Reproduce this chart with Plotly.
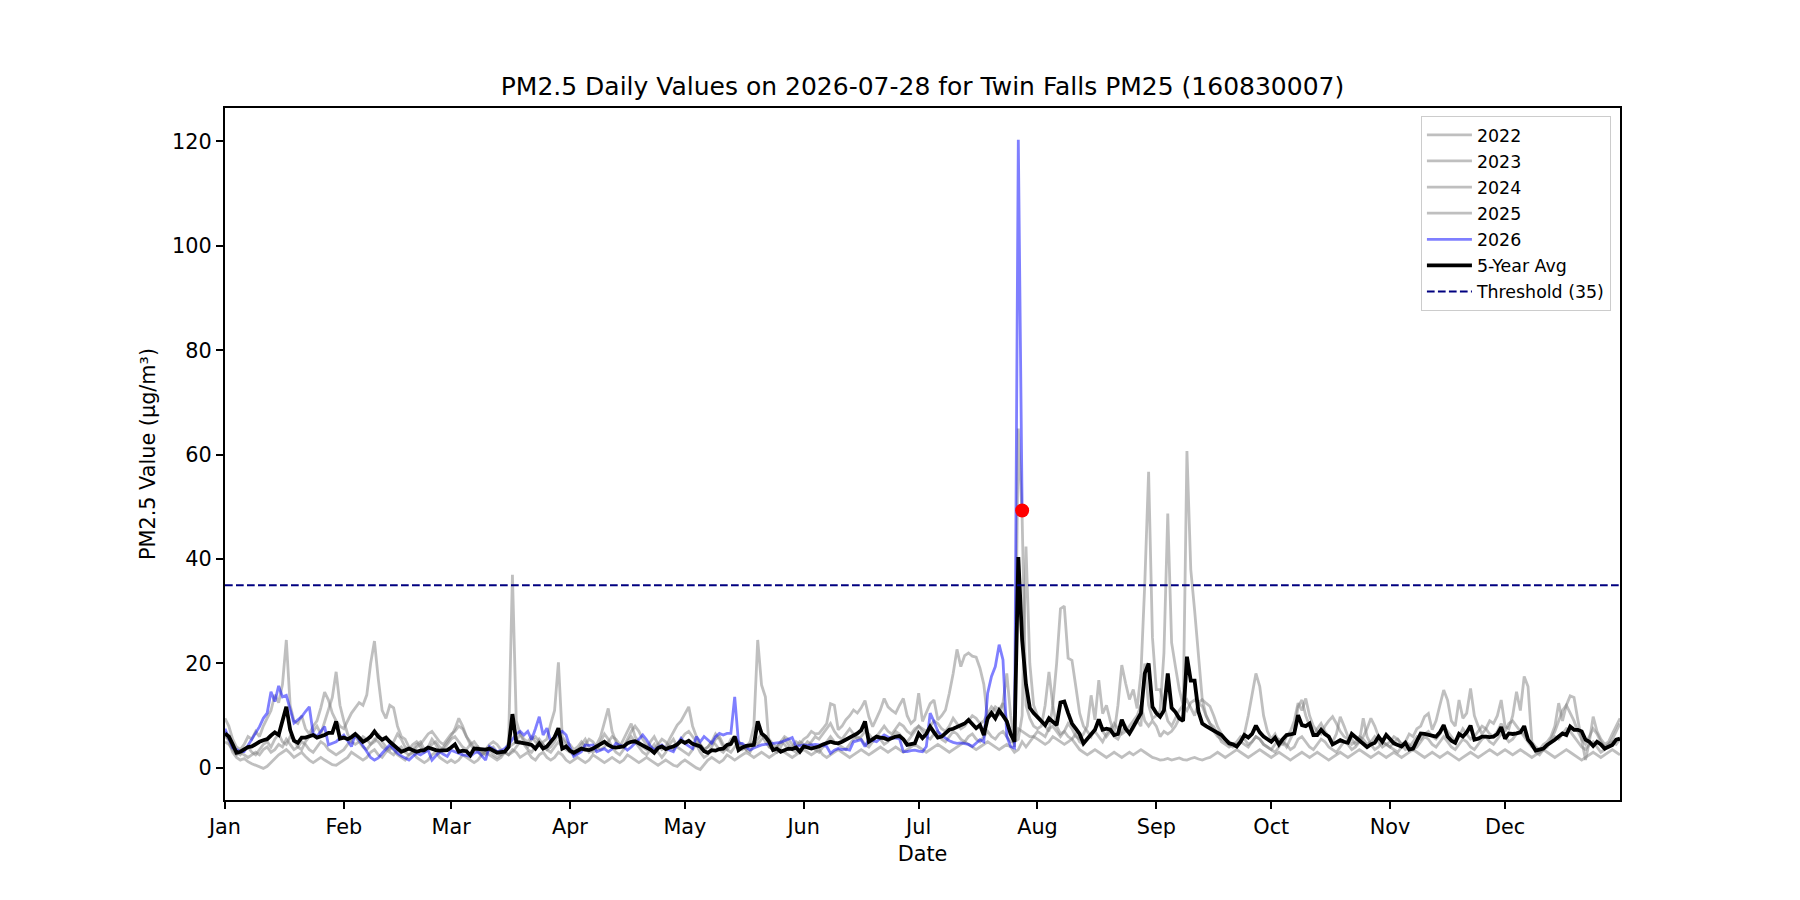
import pandas as pd
import plotly.graph_objects as go

TITLE = "PM2.5 Daily Values on 2026-07-28 for Twin Falls PM25 (160830007)"
YEAR = 2026
THRESHOLD = 35
MONTH_TICKS = ["Jan", "Feb", "Mar", "Apr", "May", "Jun",
               "Jul", "Aug", "Sep", "Oct", "Nov", "Dec"]
Y_TICKS = [0, 20, 40, 60, 80, 100, 120]

# ---- daily values (one row per month) ----
y2022 = [
    9.5,8.0,5.5,4.0,3.5,4.5,6.0,5.5,7.0,6.0,8.0,9.5,11.0,14.0,12.5,16.0,24.5,12.0,9.0,8.5,10.0,7.5,6.5,8.0,9.0,11.5,14.5,13.0,10.5,9.0,8.0,
    7.5,9.0,10.5,11.5,12.5,12.0,14.0,20.0,24.3,17.0,11.0,9.5,12.0,11.5,8.0,6.0,5.5,4.0,3.5,4.5,5.0,3.5,4.0,5.5,4.5,3.0,4.0,5.0,
    6.0,7.5,9.5,8.0,6.0,4.5,3.5,4.0,3.0,2.5,3.5,4.0,3.0,2.5,3.0,5.0,37.0,9.0,6.5,5.0,4.0,5.5,6.0,5.0,4.5,3.5,4.0,5.0,6.5,5.5,4.5,
    3.5,2.5,3.0,4.5,5.5,4.0,3.0,3.5,5.0,6.5,5.5,4.0,3.0,2.5,3.5,5.0,6.0,5.0,4.0,3.0,2.5,3.5,4.5,3.0,2.0,3.0,4.5,5.5,4.0,3.5,
    3.0,2.5,3.5,4.5,3.0,2.0,2.5,4.0,5.5,6.0,4.5,3.5,3.0,4.0,5.0,4.5,3.5,3.0,4.5,5.5,6.5,5.0,4.0,3.5,3.0,4.0,5.5,4.5,3.5,3.0,3.5,
    4.0,5.0,4.5,3.5,3.0,4.0,5.0,6.0,5.0,4.5,4.0,3.5,4.5,5.5,6.0,5.5,4.5,4.0,5.0,6.0,5.5,4.5,5.0,6.0,7.0,6.5,5.5,5.0,6.0,7.0,
    8.0,7.0,6.0,5.5,6.5,7.0,5.5,5.0,6.0,7.0,6.5,5.5,5.0,6.0,6.5,5.5,5.0,6.0,7.0,6.0,5.5,6.5,7.0,6.0,5.0,5.0,7.5,7.0,6.5,6.0,6.0,
    7.0,6.5,6.0,7.5,8.0,7.0,6.0,7.0,8.5,7.5,6.0,5.5,6.5,8.0,13.9,9.2,16.8,10.4,12.0,9.0,6.6,12.0,19.7,16.2,13.1,15.0,11.4,18.1,35.3,56.7,25.0,
    15.0,15.0,12.0,9.0,8.0,9.5,11.0,12.0,13.0,11.5,10.0,12.5,13.1,12.4,11.8,10.0,7.9,6.5,5.4,5.0,4.5,4.0,5.0,6.6,10.0,14.0,18.1,15.6,10.0,7.0,
    5.5,6.5,5.0,4.5,6.0,7.0,9.0,12.4,11.0,13.3,10.0,8.0,7.0,6.5,8.0,9.0,9.8,8.5,7.0,6.0,5.5,4.5,5.0,6.0,5.5,4.5,5.0,6.0,5.0,4.0,4.5,
    5.0,6.0,5.5,4.5,5.0,6.5,6.0,7.5,8.0,9.8,10.4,7.3,9.0,12.0,14.9,13.0,9.0,8.0,13.0,9.5,10.5,15.2,10.0,8.0,6.5,7.5,9.0,8.5,10.0,13.0,
    8.0,7.5,10.0,14.6,11.0,17.5,15.6,5.0,4.0,3.5,4.5,5.0,6.0,8.0,12.4,9.0,12.0,13.8,13.5,9.2,5.0,1.5,5.0,9.8,7.0,5.5,4.5,5.0,6.5,8.0,9.5,
]
y2023 = [
    6.0,5.5,4.0,3.0,2.5,3.5,4.0,3.0,2.5,3.5,4.5,5.0,4.0,5.5,6.5,5.0,4.5,6.0,5.5,4.0,3.5,5.0,6.0,7.0,8.0,6.5,9.0,11.0,13.5,18.4,12.0,
    9.0,6.5,5.0,4.5,5.0,6.0,5.5,4.5,5.0,6.5,5.0,4.0,3.5,5.0,6.5,5.5,4.0,3.5,4.5,5.0,4.0,3.0,3.5,4.5,5.0,4.0,3.5,4.5,
    5.5,6.0,5.0,4.0,3.5,4.5,5.0,4.0,3.0,3.5,4.5,5.0,4.5,3.5,3.0,4.0,4.5,5.0,6.5,5.5,5.0,6.0,5.0,4.5,5.0,5.5,8.5,11.0,20.2,6.0,5.0,
    4.5,3.5,4.0,5.0,4.0,3.0,3.5,4.5,6.0,8.5,11.4,7.0,5.0,4.0,5.5,7.0,8.5,6.0,5.0,4.0,3.5,5.0,6.0,4.5,3.5,4.0,5.5,7.0,8.2,9.0,
    10.5,11.7,8.0,6.0,4.5,3.5,4.0,5.0,6.5,5.5,4.0,3.5,4.5,5.5,4.5,3.5,4.0,5.0,8.0,24.5,15.9,13.6,4.0,3.5,4.0,5.0,4.5,3.5,4.0,5.0,4.5,
    5.5,6.0,7.0,6.5,6.6,7.5,8.5,12.3,12.0,7.3,8.0,9.2,10.0,11.1,10.5,11.5,12.9,9.8,7.9,9.5,11.1,13.3,11.7,11.0,10.5,12.0,13.3,10.0,8.5,9.2,
    14.3,8.9,10.5,12.3,13.0,9.2,10.0,11.1,14.3,18.1,22.7,19.4,21.5,22.0,21.4,21.2,19.1,16.0,9.2,10.5,11.7,11.1,12.4,9.0,7.0,4.0,65.0,48.0,12.0,9.5,8.0,
    7.5,8.0,12.0,18.4,12.0,8.0,6.5,7.0,6.0,5.5,6.5,5.0,4.5,5.5,6.5,7.0,6.0,5.0,6.5,7.5,6.0,5.5,7.0,8.0,6.5,7.5,9.0,8.0,20.0,12.0,9.5,
    10.0,11.0,22.0,48.7,24.0,19.4,15.0,12.0,11.0,12.5,13.0,12.4,11.8,10.0,8.5,7.9,6.5,5.0,4.5,4.0,4.5,5.0,6.0,5.5,4.5,5.0,6.0,5.5,4.5,4.0,
    3.5,4.5,5.5,5.0,4.0,5.5,7.0,11.7,13.0,10.0,8.0,6.0,7.5,8.5,7.0,6.0,5.0,6.5,9.8,8.0,6.0,5.5,4.5,5.0,6.0,7.5,9.5,8.0,6.0,5.0,4.5,
    4.0,5.0,5.5,4.5,3.5,4.0,5.0,6.0,5.5,6.5,7.0,6.0,5.5,6.5,8.0,7.0,6.0,5.0,6.0,7.5,6.5,5.5,6.0,7.0,8.0,7.5,6.5,6.0,7.0,8.5,
    7.0,8.5,9.0,8.0,7.0,6.5,5.5,4.5,3.0,2.5,3.5,4.0,5.5,7.0,9.0,11.0,12.0,10.5,9.0,7.0,5.5,4.5,6.0,7.5,6.5,5.0,4.0,4.5,5.5,7.0,8.5,
]
y2024 = [
    5.0,4.5,3.5,2.5,3.0,2.5,2.0,2.5,3.0,2.5,3.5,4.0,3.0,3.5,4.5,4.0,5.5,4.5,3.5,4.0,5.0,4.5,3.5,3.0,4.0,5.0,4.5,3.5,3.0,2.5,3.0,
    3.5,4.5,5.5,6.0,5.0,4.0,3.5,4.5,5.5,5.0,4.0,3.5,3.0,2.5,3.5,4.0,3.0,2.5,3.0,4.0,4.5,5.5,6.5,7.0,6.0,5.0,4.5,5.5,
    6.5,7.0,8.0,7.5,6.0,5.0,4.0,3.0,2.5,3.0,3.5,2.5,2.0,2.5,3.0,2.5,3.0,4.0,5.0,4.5,3.5,3.0,4.0,5.5,4.5,3.5,3.0,4.0,5.0,4.0,3.5,
    3.0,2.5,3.0,3.5,4.5,5.5,5.0,4.0,3.5,4.0,5.0,6.0,5.5,4.5,4.0,5.5,7.0,8.0,7.0,5.5,4.5,4.0,3.5,4.5,5.5,5.0,4.0,3.5,4.5,5.5,
    6.5,7.0,6.0,5.0,4.5,3.5,4.0,5.0,4.5,3.5,3.0,4.0,5.5,6.0,5.0,4.0,3.5,4.5,5.0,4.5,5.5,6.0,5.5,4.5,4.0,5.0,6.0,5.5,4.5,4.0,5.0,
    4.5,4.0,5.0,6.0,5.5,6.5,7.3,8.5,7.0,6.0,5.5,6.5,7.5,6.5,5.5,6.0,7.0,6.5,5.5,6.0,7.0,8.0,7.0,6.5,7.5,8.5,8.0,7.0,6.5,7.5,
    8.0,7.5,7.0,8.0,9.0,8.5,7.5,7.0,8.0,9.5,8.5,7.5,8.0,9.0,10.0,9.5,8.5,9.0,10.5,11.7,11.0,10.0,12.4,18.1,10.0,5.0,5.5,10.0,42.4,20.0,12.0,
    10.0,9.0,8.0,7.0,12.0,20.0,30.5,31.0,21.0,20.6,15.6,10.5,8.0,7.0,6.0,7.5,8.5,7.0,6.0,7.0,8.5,7.5,6.5,7.0,8.0,9.0,10.0,12.0,9.0,8.0,9.0,
    8.0,6.0,7.0,6.5,7.0,8.0,9.5,10.0,60.7,38.0,30.2,21.3,13.1,10.0,8.5,7.0,6.0,5.5,5.0,4.5,4.0,4.5,5.0,4.5,4.0,5.0,6.0,5.5,4.5,4.0,
    3.5,3.0,4.0,5.0,4.5,3.5,4.0,5.5,6.0,5.0,4.0,3.5,4.5,5.5,5.0,4.0,3.5,3.0,4.0,5.0,4.5,3.5,4.0,5.0,9.5,6.0,4.5,3.5,4.0,5.0,4.5,
    4.0,3.5,3.0,4.0,5.0,4.5,3.5,4.0,5.0,6.0,5.5,4.5,4.0,5.0,6.0,5.0,4.0,3.5,4.5,5.5,5.0,4.0,3.5,4.5,5.5,6.0,5.0,4.5,5.5,6.5,
    6.0,5.0,5.5,6.5,7.0,6.0,5.0,4.0,3.5,3.0,3.5,4.5,5.0,6.0,5.5,6.5,7.5,7.0,6.0,5.0,4.0,3.5,4.5,5.0,4.0,3.0,3.5,4.5,5.0,4.5,5.5,
]
y2025 = [
    7.0,5.0,3.0,2.0,1.5,1.8,1.2,0.8,0.5,0.2,-0.1,0.3,1.0,1.8,2.5,3.0,3.5,2.8,2.0,2.5,3.0,2.2,1.5,1.0,1.5,2.0,1.5,1.0,0.6,0.5,1.0,
    1.5,2.0,3.0,2.5,2.0,1.5,2.0,3.0,3.5,2.5,2.0,3.0,4.0,3.5,2.5,2.0,1.5,2.5,3.0,2.0,1.5,1.0,1.5,2.5,3.0,2.0,1.5,1.0,
    1.5,1.0,1.5,2.5,2.0,1.5,1.0,1.5,2.5,3.0,2.5,2.0,1.5,2.0,3.0,2.5,3.5,3.0,2.0,2.5,3.0,2.0,1.5,2.5,3.0,2.0,1.5,2.0,3.0,2.5,1.5,
    1.0,1.5,2.0,1.5,1.0,1.5,2.5,2.0,1.5,1.0,1.5,2.0,1.5,1.0,1.5,2.5,2.0,1.5,1.0,1.5,2.0,1.5,1.0,0.5,1.0,1.5,1.0,0.5,0.3,1.0,
    1.5,1.0,0.5,0.0,-0.3,0.5,1.5,2.0,1.5,1.0,1.5,2.5,2.0,1.5,2.0,2.5,3.0,2.5,2.0,2.5,3.0,2.5,2.0,2.5,3.0,3.5,3.0,2.5,2.0,2.5,3.0,
    3.5,3.0,2.5,3.0,3.5,2.5,2.0,2.5,3.0,3.5,3.0,2.5,2.0,2.5,3.0,3.5,3.0,2.5,3.0,3.5,4.0,3.5,3.0,3.5,4.0,3.5,3.0,3.5,4.0,4.5,
    4.0,3.5,3.0,3.5,4.0,4.5,4.0,3.5,3.0,3.5,4.0,4.5,5.0,4.5,4.0,3.5,4.0,4.5,5.0,4.5,4.0,3.5,4.0,4.5,4.0,3.0,3.5,5.0,4.0,5.0,6.0,
    5.5,5.0,4.5,5.0,6.0,5.5,5.0,4.5,5.0,5.5,4.5,3.5,3.0,2.5,3.0,3.5,3.0,2.5,2.0,2.5,3.0,2.5,2.0,2.5,3.0,2.5,3.0,3.5,3.0,2.5,2.0,
    1.8,1.5,1.6,1.8,1.5,1.7,1.9,1.6,1.5,1.8,2.0,1.7,1.5,1.8,2.0,2.5,3.0,2.5,2.0,2.5,3.0,3.5,3.0,2.5,2.0,2.5,3.0,3.5,3.0,2.5,
    2.0,2.5,3.0,2.5,2.0,1.5,2.0,2.5,3.0,2.5,2.0,2.5,3.0,2.5,2.0,1.5,2.0,2.5,3.0,2.5,2.0,2.5,3.0,3.5,3.0,2.5,2.0,2.5,3.0,2.5,2.0,
    2.5,3.0,2.5,2.0,2.5,3.0,3.5,3.0,2.5,2.0,2.5,3.0,2.5,2.0,2.5,3.0,2.5,2.0,1.5,2.0,2.5,3.0,2.5,2.0,2.5,3.0,3.5,3.0,2.5,3.0,
    3.5,3.0,2.5,3.0,3.5,3.0,2.5,2.0,2.5,3.0,3.5,3.0,2.5,2.0,2.5,3.0,3.5,3.0,2.5,2.0,1.5,2.0,2.5,3.0,2.5,2.0,2.5,3.0,3.5,3.0,2.5,
]
# current year, Jan 1 .. Jul 28
y2026 = [
    7.5,5.5,3.8,3.5,3.1,3.1,4.3,5.4,6.6,7.9,9.5,10.5,14.6,12.7,15.7,13.6,13.9,11.0,8.6,9.2,9.8,10.8,11.7,6.6,6.0,7.0,7.9,4.4,4.7,5.0,5.7,
    6.3,5.2,4.1,6.5,5.4,4.2,3.1,2.0,1.5,1.9,2.8,3.7,4.4,3.6,2.8,2.3,1.9,1.5,2.2,2.8,2.5,2.9,3.4,1.5,2.3,3.1,2.6,2.2,
    3.4,3.1,2.8,2.5,2.4,2.2,2.8,3.1,2.3,1.5,4.1,3.6,3.1,3.3,3.7,4.4,5.4,6.5,7.0,6.3,7.0,5.4,7.5,9.8,6.3,7.6,5.0,6.0,6.5,7.0,6.3,
    4.0,2.2,2.6,3.1,4.4,4.3,4.4,3.1,3.4,3.7,3.1,3.6,4.7,4.3,4.1,3.4,4.0,4.7,5.5,6.3,5.4,4.2,3.4,3.9,4.4,3.7,3.4,3.1,4.5,5.7,
    4.7,4.2,3.7,6.0,5.0,6.0,5.4,4.7,6.0,6.6,6.3,6.6,6.6,13.6,4.7,4.7,4.0,3.4,3.8,4.1,4.4,4.5,4.6,4.7,4.8,4.9,5.2,5.5,5.8,4.1,4.3,
    4.4,4.3,4.4,4.5,4.4,4.2,4.1,2.8,3.4,3.7,3.5,3.6,3.4,5.0,5.2,5.4,4.1,5.4,5.2,5.0,5.7,6.3,5.9,5.7,5.7,5.6,3.1,3.1,3.3,3.4,
    3.2,3.1,4.1,10.5,8.9,7.0,6.2,5.7,5.2,4.9,4.7,4.8,4.7,4.5,4.1,4.8,5.4,5.0,14.3,17.5,19.4,23.6,20.7,6.0,4.1,3.8,120.3,49.3,
]
avg5 = [
    6.6,6.0,4.5,2.9,3.1,3.5,4.0,4.1,4.6,5.0,5.3,5.5,6.2,6.8,6.3,9.2,11.7,7.3,5.2,4.8,5.8,5.8,6.0,6.3,5.8,6.0,6.3,6.7,6.7,8.9,5.6,
    5.8,5.5,5.9,6.5,5.8,5.0,5.4,6.0,7.0,6.0,5.4,5.8,5.0,4.4,3.6,3.1,3.4,3.7,3.4,3.1,3.3,3.4,3.9,3.6,3.4,3.3,3.3,3.4,
    3.9,4.5,3.1,3.3,3.2,2.4,3.7,3.6,3.6,3.5,3.7,3.3,2.9,3.0,3.1,4.0,10.3,5.0,4.9,4.8,4.6,4.4,3.7,4.7,3.7,4.1,5.0,5.9,7.6,3.7,4.1,
    3.3,2.9,3.4,3.7,3.5,3.4,3.7,4.1,4.5,5.0,4.4,4.0,3.9,4.0,4.1,4.7,5.0,5.1,4.7,4.5,4.1,3.5,2.9,3.8,4.1,3.6,3.9,4.1,4.5,5.2,
    4.8,5.2,4.6,4.4,4.1,3.2,2.9,3.4,3.3,3.6,3.7,4.4,4.6,6.0,3.4,3.9,4.2,4.3,4.4,8.9,6.6,6.0,5.0,3.4,3.7,3.1,3.5,3.7,3.6,3.9,3.1,
    4.1,3.9,3.7,3.9,4.1,4.5,4.7,5.0,4.8,4.7,5.0,5.4,5.7,6.0,6.6,7.2,8.9,5.0,5.5,6.0,5.8,5.7,5.4,5.7,6.0,6.1,5.5,4.4,4.5,4.7,
    6.6,5.7,6.5,7.9,6.8,5.8,6.0,6.7,7.3,7.5,7.8,8.2,8.5,9.2,8.5,7.6,8.2,6.3,9.5,10.5,9.5,11.0,10.0,8.9,6.5,5.0,40.4,24.5,16.0,11.5,10.5,
    9.8,9.0,8.2,9.5,8.8,8.2,12.5,12.7,10.5,8.5,7.5,6.5,4.7,5.5,6.3,7.3,9.3,7.3,7.5,7.3,6.3,6.5,9.2,7.5,6.6,7.9,9.0,10.5,18.1,20.0,11.7,
    10.5,9.8,11.0,18.1,11.5,10.7,9.5,9.0,21.3,16.7,16.7,10.8,8.5,8.0,7.6,7.2,6.8,6.3,5.5,4.7,4.5,4.1,5.0,6.3,5.8,6.5,8.1,6.8,6.0,5.4,
    5.0,5.8,4.5,5.5,6.3,6.4,6.6,10.1,8.2,8.0,8.5,6.3,6.3,7.3,6.5,6.0,4.5,4.9,5.3,5.0,4.8,6.5,5.9,5.4,4.7,4.0,4.5,4.8,6.0,5.0,6.3,
    5.5,4.7,4.4,4.1,4.8,3.5,3.7,5.0,6.6,6.5,6.3,6.2,6.0,6.8,8.2,6.0,5.2,4.8,6.5,6.0,6.8,8.1,5.4,5.6,6.0,6.0,5.9,6.0,6.5,7.8,
    5.6,6.6,6.5,6.6,6.8,8.0,5.4,4.5,3.3,3.5,3.7,4.4,4.8,5.4,6.0,6.6,6.3,7.9,7.3,7.3,7.0,5.4,5.0,4.2,5.0,4.5,3.7,4.0,4.4,5.4,5.6,
]

for name, s in [("y2022", y2022), ("y2023", y2023), ("y2024", y2024),
                ("y2025", y2025), ("avg5", avg5)]:
    assert len(s) == 365, (name, len(s))
assert len(y2026) == 209, len(y2026)

dates = [d.strftime("%Y-%m-%d") for d in pd.date_range(f"{YEAR}-01-01", f"{YEAR}-12-31", freq="D")]
month_starts = [f"{YEAR}-{m:02d}-01" for m in range(1, 13)]

FONT = "DejaVu Sans"
GRAY = "rgba(128,128,128,0.5)"
BLUE = "rgba(0,0,255,0.5)"
TICK_SIZE = 20.8

fig = go.Figure()
for name, vals in [("2022", y2022), ("2023", y2023), ("2024", y2024), ("2025", y2025)]:
    fig.add_trace(go.Scatter(x=dates, y=vals, mode="lines", name=name, legendgroup=name,
                             line=dict(color=GRAY, width=2.8)))
fig.add_trace(go.Scatter(x=dates[:len(y2026)], y=y2026, mode="lines", name="2026", legendgroup="2026",
                         line=dict(color=BLUE, width=2.8)))
fig.add_trace(go.Scatter(x=dates, y=avg5, mode="lines", name="5-Year Avg", legendgroup="avg",
                         line=dict(color="black", width=3.8)))
fig.add_trace(go.Scatter(x=[dates[0], dates[-1]], y=[THRESHOLD, THRESHOLD], mode="lines",
                         name=f"Threshold ({THRESHOLD})", legendgroup="thr",
                         line=dict(color="navy", width=2.0, dash="7.7px,3.3px")))
fig.add_trace(go.Scatter(x=[dates[len(y2026) - 1]], y=[y2026[-1]], mode="markers", showlegend=False,
                         marker=dict(color="red", size=14, line=dict(width=0))))

axis_common = dict(showline=True, linecolor="black", linewidth=1.67, mirror=True,
                   ticks="outside", ticklen=7.3, tickwidth=1.67, tickcolor="black",
                   showgrid=False, zeroline=False,
                   tickfont=dict(family=FONT, size=TICK_SIZE, color="black"))

fig.update_layout(
    width=1800, height=900,
    margin=dict(l=225, r=180, t=108, b=100, autoexpand=False),
    paper_bgcolor="white", plot_bgcolor="white",
    font=dict(family=FONT, color="black"),
    title=dict(text=TITLE, x=0.5, xref="paper", xanchor="center",
               y=1 - 86 / 900, yref="container", yanchor="middle",
               font=dict(family=FONT, size=25, color="black")),
    xaxis=dict(type="date", range=[dates[0], dates[-1]], tickvals=month_starts, ticktext=MONTH_TICKS,
               title=dict(text="Date", font=dict(family=FONT, size=TICK_SIZE, color="black"), standoff=8),
               automargin=False, **axis_common),
    yaxis=dict(range=[-6.15, 126.4], tickvals=Y_TICKS,
               title=dict(text="PM2.5 Value (µg/m³)", font=dict(family=FONT, size=TICK_SIZE, color="black"), standoff=11),
               automargin=False, **axis_common),
    legend=dict(x=0.9935, y=0.9884, xanchor="right", yanchor="top",
                bgcolor="rgba(255,255,255,0.8)", bordercolor="#cccccc", borderwidth=1,
                font=dict(family=FONT, size=17.4, color="black"),
                itemwidth=45, traceorder="grouped", tracegroupgap=0.5),
    showlegend=True,
)

fig.write_html("out.html")
